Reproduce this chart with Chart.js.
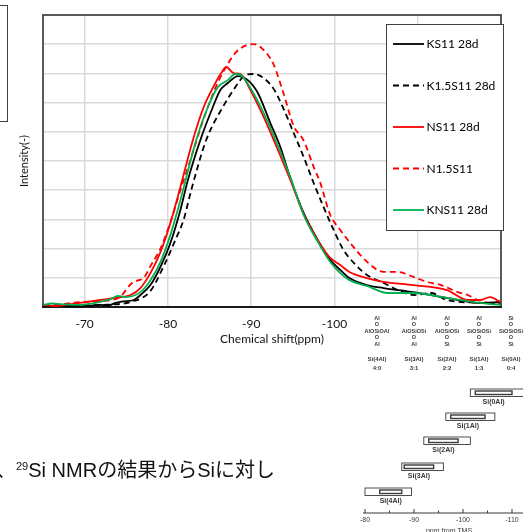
<!DOCTYPE html>
<html lang="ja">
<head>
<meta charset="utf-8">
<title>29Si NMR</title>
<script src="https://cdn.jsdelivr.net/npm/chart.js@4.4.1/dist/chart.umd.min.js"></script>
<style>
  html, body { margin: 0; padding: 0; background: #fff; }
  #page { position: relative; width: 523px; height: 532px; overflow: hidden; background: #fff; }
  #nmr { position: absolute; left: 0; top: 0; }
  #sideBox { position: absolute; left: -6px; top: 5px; width: 12px; height: 115px; border: 1px solid #404040; }
  #note {
    position: absolute; left: -4px; top: 459px; white-space: nowrap;
    font-family: "Liberation Sans", "Noto Sans CJK JP", sans-serif;
    font-size: 20px; line-height: 22px; color: #111;
  }
  #note sup { font-size: 11px; vertical-align: 7px; line-height: 0; }
  #ref { position: absolute; left: 0; top: 0; pointer-events: none; }
</style>
</head>
<body>
<div id="page">
  <canvas id="nmr" width="523" height="532"></canvas>
  <div id="sideBox"></div>

  <!-- reference table of Si(nAl) chemical shift ranges -->
  <svg id="ref" width="523" height="532" viewBox="0 0 523 532">
    <defs>
      <filter id="soft" x="-5%" y="-5%" width="110%" height="110%">
        <feGaussianBlur stdDeviation="0.45"/>
      </filter>
    </defs>
    <rect x="358" y="310" width="165" height="222" fill="#fff"/>
    <g filter="url(#soft)" fill="#3a3a3a" font-family="Liberation Sans, sans-serif" font-weight="bold" text-anchor="middle">
      <g font-size="5.5" id="structs"></g>
      <g font-size="6" id="siLabels"></g>
      <g fill="none" stroke="#3a3a3a" stroke-width="0.9" id="ranges"></g>
      <g font-size="7" id="rangeLabels"></g>
      <g id="refAxis"></g>
    </g>
  </svg>

  <div id="note">、<sup>29</sup>Si NMRの結果からSiに対し</div>
</div>

<script>
// ---- 29Si NMR spectra: chemical shift (ppm) and intensity (-) ----
const shiftKS11 = [-65.1, -67.0, -69.5, -71.9, -72.8, -73.7, -74.6, -75.9, -76.7, -77.9, -79.1, -80.3, -81.5, -82.4, -83.9, -85.4, -86.3, -87.2, -88.4, -89.6, -90.8, -92.3, -93.5, -94.7, -96.3, -98.0, -99.5, -100.7, -101.8, -103.9, -105.9, -109.5, -113.5, -117.5, -119.9];
const intKS11   = [0.03, 0.04, 0.03, 0.07, 0.05, 0.14, 0.19, 0.24, 0.41, 0.75, 1.37, 2.19, 3.32, 4.35, 5.72, 6.85, 7.43, 7.67, 7.91, 7.77, 7.33, 6.30, 5.48, 4.42, 3.22, 2.29, 1.61, 1.27, 0.99, 0.75, 0.65, 0.51, 0.31, 0.14, 0.17];

const shiftK15S11 = [-65.1, -68.3, -71.9, -75.9, -77.9, -79.5, -80.9, -81.9, -82.8, -84.6, -86.6, -88.1, -89.1, -90.2, -91.5, -92.7, -93.9, -95.1, -96.3, -97.5, -98.7, -99.9, -101.1, -102.8, -103.9, -105.9, -107.6, -109.5, -111.6, -113.5, -117.5, -119.9];
const intK15S11   = [0.03, 0.05, 0.07, 0.20, 0.55, 1.40, 2.30, 3.00, 4.00, 5.72, 6.85, 7.53, 7.90, 7.98, 7.84, 7.47, 6.78, 5.96, 5.14, 4.25, 3.42, 2.64, 1.95, 1.37, 1.10, 0.82, 0.58, 0.41, 0.48, 0.24, 0.14, 0.10];

const shiftNS11 = [-65.1, -66.5, -68.3, -70.1, -71.9, -73.7, -75.5, -76.7, -77.9, -79.1, -80.3, -81.5, -83.0, -84.3, -85.7, -86.4, -87.0, -87.9, -88.7, -89.9, -91.1, -92.3, -94.7, -96.3, -98.0, -99.5, -100.7, -101.8, -103.9, -105.9, -109.5, -113.5, -116.0, -117.5, -118.7, -119.9];
const intNS11   = [0.07, 0.03, 0.10, 0.17, 0.24, 0.31, 0.41, 0.65, 1.16, 1.88, 2.88, 4.11, 5.72, 6.85, 7.67, 8.01, 8.22, 8.01, 7.98, 7.43, 6.75, 5.99, 4.35, 3.18, 2.29, 1.68, 1.44, 1.20, 0.99, 0.86, 0.75, 0.58, 0.24, 0.24, 0.34, 0.17];

const shiftN15S11 = [-65.1, -67.1, -69.5, -71.9, -74.2, -75.8, -77.1, -77.9, -79.1, -80.3, -81.5, -83.0, -84.3, -85.7, -86.9, -88.1, -89.3, -90.3, -91.5, -92.7, -93.9, -95.1, -96.3, -97.5, -98.3, -99.5, -100.7, -102.1, -103.9, -105.9, -107.6, -109.5, -111.2, -112.8, -114.8, -116.0, -117.2, -118.8, -119.9];
const intN15S11   = [0.07, 0.10, 0.17, 0.20, 0.34, 0.85, 1.00, 1.40, 2.00, 2.90, 4.00, 5.30, 6.45, 7.50, 8.18, 8.70, 8.95, 9.00, 8.80, 8.30, 7.30, 6.20, 5.70, 4.80, 4.25, 3.15, 2.64, 2.12, 1.55, 1.20, 1.20, 1.03, 0.85, 0.75, 0.51, 0.41, 0.24, 0.14, 0.20];

const shiftKNS11 = [-65.1, -66.0, -67.1, -69.2, -71.3, -72.2, -73.1, -74.0, -74.9, -76.7, -77.9, -79.1, -80.3, -81.5, -83.4, -84.8, -86.0, -87.2, -88.1, -88.9, -89.9, -91.1, -92.3, -94.7, -96.3, -98.0, -99.5, -100.7, -101.8, -103.9, -106.4, -109.5, -113.5, -117.5, -119.9];
const intKNS11   = [0.07, 0.12, 0.10, 0.07, 0.14, 0.20, 0.27, 0.38, 0.34, 0.51, 0.92, 1.54, 2.47, 3.66, 5.72, 6.85, 7.53, 7.77, 7.98, 7.91, 7.50, 6.88, 6.13, 4.45, 3.15, 2.23, 1.54, 1.16, 0.92, 0.72, 0.48, 0.48, 0.31, 0.14, 0.07];

const seriesNames  = ['KS11 28d', 'K1.5S11 28d', 'NS11 28d', 'N1.5S11', 'KNS11 28d'];
const shiftTicks   = [-70, -80, -90, -100, -110, -120];
const shiftLabels  = ['-70', '-80', '-90', '-100', '', ''];
const xTitle = 'Chemical shift(ppm)';
const yTitle = 'Intensity(-)';

// ---- Si(nAl) reference table text ----
const siUnits   = ['Si(4Al)', 'Si(3Al)', 'Si(2Al)', 'Si(1Al)', 'Si(0Al)'];
const siRatios  = ['4:0', '3:1', '2:2', '1:3', '0:4'];
const siStructs = [
  ['Al', 'O', 'AlOSiOAl', 'O', 'Al'],
  ['Al', 'O', 'AlOSiOSi', 'O', 'Al'],
  ['Al', 'O', 'AlOSiOSi', 'O', 'Si'],
  ['Al', 'O', 'SiOSiOSi', 'O', 'Si'],
  ['Si', 'O', 'SiOSiOSi', 'O', 'Si']
];
// shift ranges (ppm) for Si(4Al) ... Si(0Al): full range, then most common range
const rangeOuter = [[-80.0, -89.5], [-87.5, -96.0], [-92.0, -101.5], [-96.5, -106.5], [-101.5, -115.0]];
const rangeInner = [[-83.0, -87.5], [-88.0, -94.0], [-93.0, -99.0], [-97.5, -104.5], [-102.5, -110.0]];
const refTicks   = [-80, -90, -100, -110];

function points(xs, ys) { return xs.map((x, i) => ({ x, y: ys[i] })); }

const lineStyle = { pointRadius: 0, borderWidth: 1.8, cubicInterpolationMode: 'monotone', fill: false };
const datasets = [
  { label: seriesNames[0], data: points(shiftKS11, intKS11),     borderColor: '#000000', borderDash: [],     order: 3, ...lineStyle },
  { label: seriesNames[1], data: points(shiftK15S11, intK15S11), borderColor: '#000000', borderDash: [6, 4], order: 5, ...lineStyle },
  { label: seriesNames[2], data: points(shiftNS11, intNS11),     borderColor: '#ff0000', borderDash: [],     order: 2, ...lineStyle },
  { label: seriesNames[3], data: points(shiftN15S11, intN15S11), borderColor: '#ff0000', borderDash: [6, 4], order: 4, ...lineStyle },
  { label: seriesNames[4], data: points(shiftKNS11, intKNS11),   borderColor: '#00b050', borderDash: [],     order: 1, ...lineStyle }
];

const FONT = 'Lato, "Liberation Sans", sans-serif';

// frame around the plot area
const frame = {
  id: 'frame',
  beforeDatasetsDraw(chart) {
    const { ctx, chartArea: a } = chart;
    ctx.save();
    ctx.lineWidth = 2;
    ctx.strokeStyle = '#595959';
    ctx.beginPath();
    ctx.moveTo(a.left, a.bottom); ctx.lineTo(a.left, a.top);
    ctx.lineTo(a.right, a.top); ctx.lineTo(a.right, a.bottom);
    ctx.stroke();
    ctx.strokeStyle = '#1a1a1a';
    ctx.beginPath();
    ctx.moveTo(a.left - 1, a.bottom); ctx.lineTo(a.right + 1, a.bottom);
    ctx.stroke();
    ctx.restore();
  }
};

// boxed legend placed over the upper right of the plot
const boxLegend = {
  id: 'boxLegend',
  afterDraw(chart) {
    const { ctx } = chart;
    const box = { x: 386.5, y: 24.5, w: 117, h: 206 };
    ctx.save();
    ctx.fillStyle = '#ffffff';
    ctx.fillRect(box.x, box.y, box.w, box.h);
    ctx.strokeStyle = '#404040';
    ctx.lineWidth = 1;
    ctx.strokeRect(box.x, box.y, box.w, box.h);
    ctx.font = '12px ' + FONT;
    ctx.textBaseline = 'middle';
    ctx.fillStyle = '#000';
    chart.data.datasets.forEach((ds, i) => {
      const cy = 44 + i * 41.5;
      ctx.strokeStyle = ds.borderColor;
      ctx.lineWidth = 1.8;
      ctx.setLineDash(ds.borderDash);
      ctx.beginPath();
      ctx.moveTo(393, cy); ctx.lineTo(424, cy);
      ctx.stroke();
      ctx.setLineDash([]);
      ctx.fillText(ds.label, 426.5, cy + 0.5);
    });
    ctx.restore();
  }
};

new Chart(document.getElementById('nmr'), {
  type: 'line',
  data: { datasets },
  options: {
    responsive: false,
    animation: false,
    devicePixelRatio: 1,
    layout: { padding: { left: 0, top: 15, right: 22, bottom: 185 } },
    plugins: { legend: { display: false }, tooltip: { enabled: false }, title: { display: false } },
    scales: {
      x: {
        type: 'linear',
        reverse: true,
        min: -120,
        max: -65,
        afterBuildTicks: (s) => { s.ticks = shiftTicks.map(v => ({ value: v })); },
        afterFit: (s) => { s.height = 40; },
        ticks: {
          autoSkip: false, maxRotation: 0, padding: 10,
          color: '#111', font: { family: FONT, size: 12 },
          callback: (v) => { const i = shiftTicks.indexOf(v); return i >= 0 ? shiftLabels[i] : ''; }
        },
        grid: { color: '#d9d9d9', lineWidth: 1.5, drawTicks: false },
        border: { display: false },
        title: { display: true, text: xTitle, color: '#111', font: { family: FONT, size: 12 }, padding: { top: 0, bottom: 1 } }
      },
      y: {
        min: 0,
        max: 10,
        afterFit: (s) => { s.width = 43; },
        ticks: { stepSize: 1, display: false },
        grid: { color: '#d9d9d9', lineWidth: 1.5, drawTicks: false },
        border: { display: false },
        title: { display: true, text: yTitle, color: '#111', font: { family: FONT, size: 11 }, padding: { top: 18, bottom: 0 } }
      }
    }
  },
  plugins: [frame, boxLegend]
});

// ---- reference table drawing ----
(function drawRef() {
  const NS = 'http://www.w3.org/2000/svg';
  const colX = [377, 414, 447, 479, 511];
  const rowY = [318, 324, 331, 337, 344];
  const px = (ppm) => 365 + (-80 - ppm) * 4.9;   // ppm -> x of the small axis
  function el(tag, attrs, parent, text) {
    const e = document.createElementNS(NS, tag);
    for (const k in attrs) e.setAttribute(k, attrs[k]);
    if (text !== undefined) e.textContent = text;
    document.getElementById(parent).appendChild(e);
    return e;
  }
  siStructs.forEach((lines, c) => {
    lines.forEach((t, r) => el('text', { x: colX[c], y: rowY[r] + 2 }, 'structs', t));
  });
  siUnits.forEach((t, c) => el('text', { x: colX[c], y: 361 }, 'siLabels', t));
  siRatios.forEach((t, c) => el('text', { x: colX[c], y: 370 }, 'siLabels', t));

  const boxY = [488, 463, 437, 413, 389];
  rangeOuter.forEach((r, i) => {
    const x1 = px(r[0]), x2 = px(r[1]);
    el('rect', { x: x1, y: boxY[i], width: x2 - x1, height: 7.5 }, 'ranges');
    const i1 = px(rangeInner[i][0]), i2 = px(rangeInner[i][1]);
    el('rect', { x: i1, y: boxY[i] + 2, width: i2 - i1, height: 3.5, 'stroke-width': 1.4 }, 'ranges');
    el('text', { x: (i1 + i2) / 2, y: boxY[i] + 15 }, 'rangeLabels', siUnits[i]);
  });

  const ax = 'refAxis';
  el('line', { x1: 363, y1: 513, x2: 523, y2: 513, stroke: '#3a3a3a', 'stroke-width': 1 }, ax);
  for (let v = -80; v >= -112; v -= 5) {
    el('line', { x1: px(v), y1: 513, x2: px(v), y2: v % 10 === 0 ? 509 : 510.5, stroke: '#3a3a3a', 'stroke-width': 1 }, ax);
  }
  refTicks.forEach(v => el('text', { x: px(v), y: 522, 'font-size': 7, 'font-weight': 'normal' }, ax, String(v)));
  el('text', { x: 449, y: 533, 'font-size': 7, 'font-weight': 'normal' }, ax, 'ppm  from  TMS');
})();
</script>
</body>
</html>
